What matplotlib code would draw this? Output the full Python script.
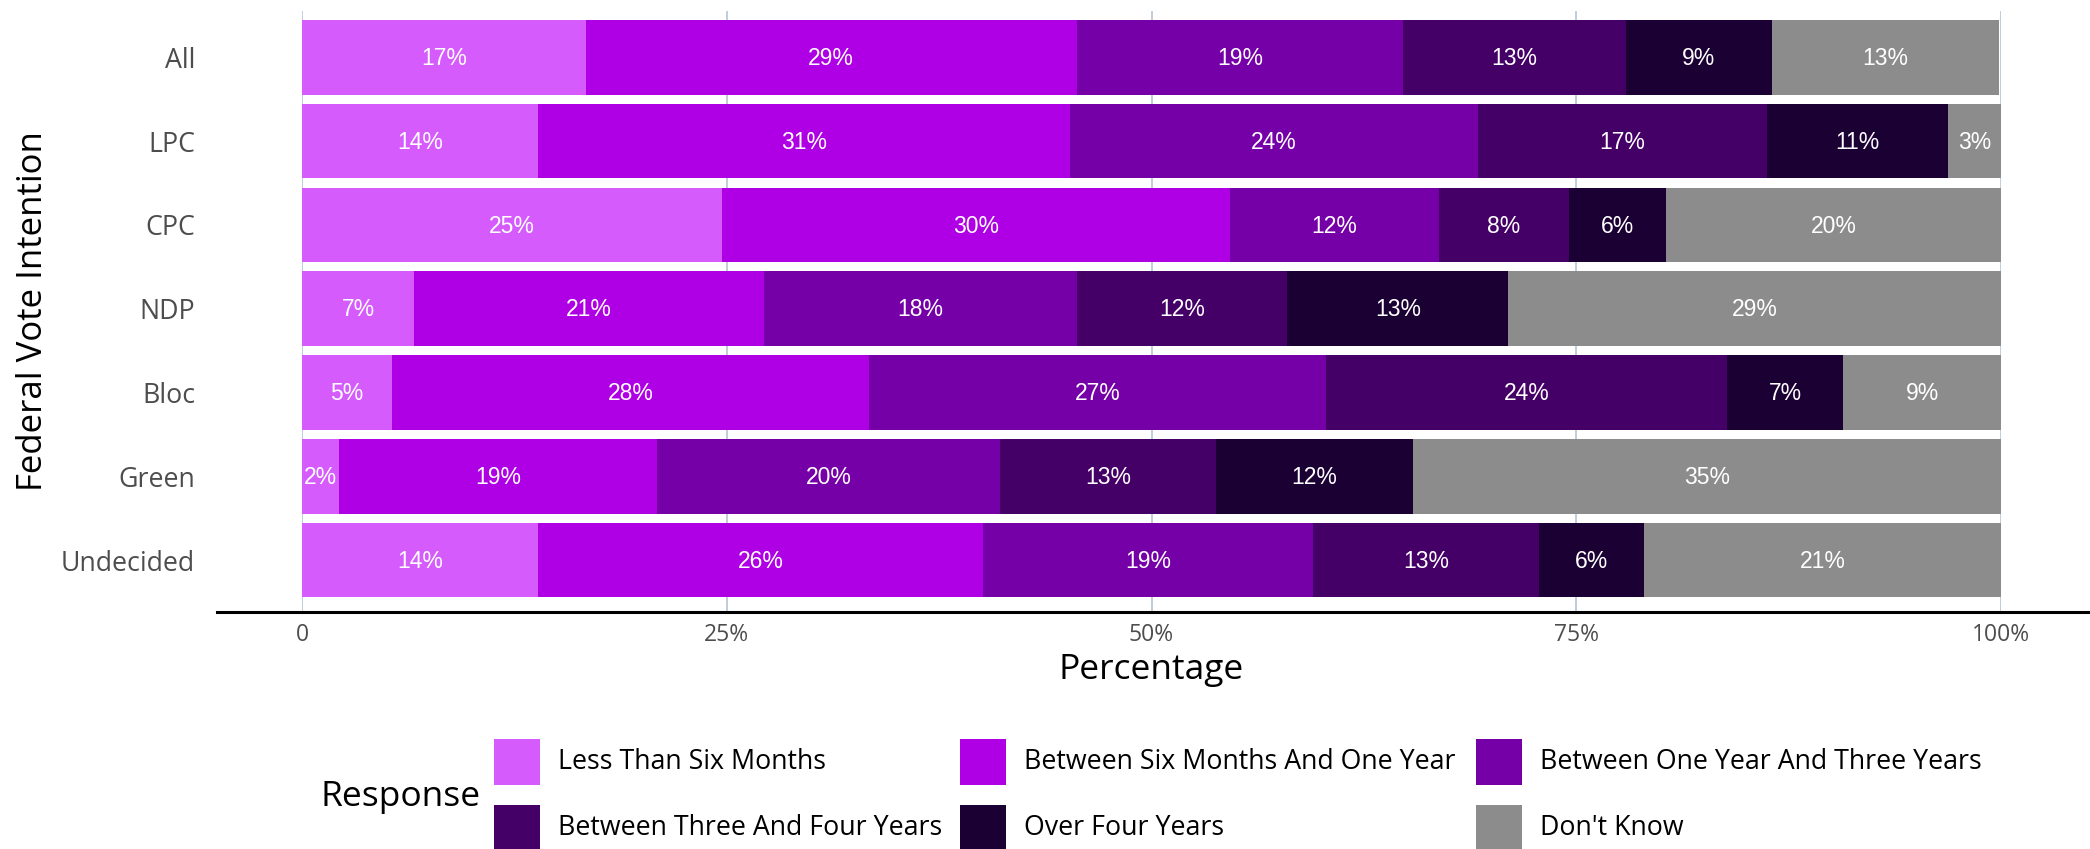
import matplotlib
matplotlib.use("Agg")
import matplotlib.pyplot as plt
from matplotlib.patches import Rectangle
from matplotlib.lines import Line2D

groups = ["All", "LPC", "CPC", "NDP", "Bloc", "Green", "Undecided"]
responses = ["Less Than Six Months", "Between Six Months And One Year",
             "Between One Year And Three Years", "Between Three And Four Years",
             "Over Four Years", "Don't Know"]
less_six = [16.7, 13.9, 24.7, 6.6, 5.3, 2.2, 13.9]
six_to_one = [28.9, 31.3, 29.9, 20.6, 28.1, 18.7, 26.2]
one_to_three = [19.2, 24.0, 12.3, 18.4, 26.9, 20.2, 19.4]
three_to_four = [13.1, 17.0, 7.7, 12.4, 23.6, 12.7, 13.3]
over_four = [8.6, 10.7, 5.7, 13.0, 6.8, 11.6, 6.2]
dont_know = [13.4, 3.1, 19.7, 29.0, 9.4, 34.6, 21.0]
series = [less_six, six_to_one, one_to_three, three_to_four, over_four, dont_know]
colors = ["#D55BFD", "#AF00E5", "#7600A7", "#450068", "#1B0033", "#8C8C8C"]
xticks = [0, 25, 50, 75, 100]
xticklabels = ["0", "25%", "50%", "75%", "100%"]

W, H = 2090, 849
fig = plt.figure(figsize=(W / 100, H / 100), dpi=100)
title_font = "Open Sans"
bar_font = "Liberation Sans"

L, R, T, B = 302, 2001, 11, 612
ax = fig.add_axes([L / W, 1 - B / H, (R - L) / W, (B - T) / H])
ypos = list(range(len(groups)))
left = [0.0] * len(groups)
for vals, col in zip(series, colors):
    ax.barh(ypos, vals, left=left, height=0.89, color=col, zorder=2)
    for y, v, l in zip(ypos, vals, left):
        ax.text(l + v / 2, y + 0.015, f"{round(v):d}%", ha="center", va="center",
                color="white", fontsize=16.5, family=bar_font, zorder=3)
    left = [a + b for a, b in zip(left, vals)]

ax.set_xlim(0, 100)
ax.set_ylim(6.62, -0.553)
ax.set_xticks(xticks)
ax.set_xticklabels(xticklabels)
ax.set_yticks(ypos)
ax.set_yticklabels(groups)
ax.tick_params(length=0, labelcolor="#4D4D4D")
ax.tick_params(axis="y", pad=77, labelsize=19.3)
ax.tick_params(axis="x", pad=8, labelsize=16.5)
for lab in ax.get_xticklabels() + ax.get_yticklabels():
    lab.set_family(title_font)
for s in ax.spines.values():
    s.set_visible(False)
ax.grid(axis="x", color="#B4C6D4", linewidth=1.2, zorder=0)
ax.set_axisbelow(True)

ax.set_xlabel("Percentage", fontsize=25.5, family=title_font, labelpad=4)
ax.set_ylabel("Federal Vote Intention", fontsize=25, family=title_font, labelpad=8)

# axis line across the full width
fig.add_artist(Line2D([217 / W, 1.0], [1 - 612 / H, 1 - 612 / H], color="black", linewidth=2.2))

# legend
fig.text(320 / W, 1 - 797 / H, "Response", fontsize=25.5, family=title_font, va="center", ha="left")
key_x = [494, 960, 1476]
row_y = [762, 828]
order = [[0, 1, 2], [3, 4, 5]]
for r, row in enumerate(order):
    for c, idx in enumerate(row):
        x0 = key_x[c]
        yc = row_y[r]
        fig.add_artist(Rectangle((x0 / W, 1 - (yc + 23) / H), 46 / W, 46 / H,
                                 transform=fig.transFigure, facecolor=colors[idx],
                                 edgecolor="none"))
        fig.text((x0 + 64) / W, 1 - yc / H, responses[idx], fontsize=19.3,
                 family=title_font, va="center", ha="left")

fig.savefig("out.png", dpi=100)
